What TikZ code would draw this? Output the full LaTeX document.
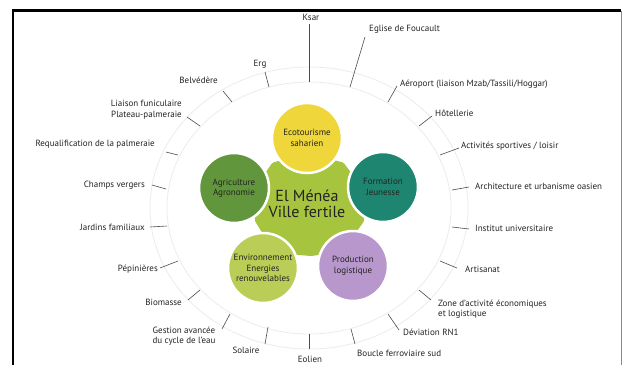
\documentclass[tikz,border=0pt]{standalone}
\usepackage{fontspec}
\setmainfont{PT Sans}
\definecolor{cYellow}{RGB}{239,214,58}
\definecolor{cDkGreen}{RGB}{98,150,60}
\definecolor{cTeal}{RGB}{30,134,112}
\definecolor{cPurple}{RGB}{184,152,204}
\definecolor{cLtGreen}{RGB}{186,205,86}
\definecolor{cStar}{RGB}{166,196,62}
\definecolor{cText}{RGB}{35,35,35}
\definecolor{cRing}{RGB}{236,236,236}
\begin{document}
\begin{tikzpicture}[x=1pt,y=-1pt,
  lbl/.style={font=\fontsize{9}{10.5}\selectfont, text=cText, inner sep=0pt},
  tick/.style={draw=black!70, line width=0.6pt},
  bub/.style={circle, minimum size=70pt, inner sep=0pt, draw=white, line width=2.5pt,
              align=center, text=cText, font=\fontsize{9}{10.5}\selectfont}]
\useasboundingbox (0,0) rectangle (624,365);
\fill[white] (0,0) rectangle (624,365);
% frame
\draw[line width=2.6pt, black] (13,365) -- (13,10.5) -- (621,10.5);
\draw[line width=0.6pt, black!45] (621,10.5) -- (621,365);
% ring band
\draw[cRing, line width=0.8pt] (309,208) ellipse [x radius=142pt, y radius=126pt];
\draw[cRing, line width=0.8pt] (309,208) ellipse [x radius=159pt, y radius=141pt];
% star
\filldraw[cStar, line width=8pt, line join=round]
  (275,166) -- (308,158) -- (341,166) -- (361,192) -- (360,220) -- (340,248)
  -- (311,252) -- (277,249) -- (259,220) -- (256,193) -- cycle;
\node[text=cText, font=\fontsize{16}{16.5}\selectfont, align=center, inner sep=0pt] (city) at (307,204) {El Ménéa\\Ville fertile};
% bubbles
\node[bub, fill=cYellow] (eco) at (307,138) {Ecotourisme\\saharien};
\node[bub, fill=cTeal] (form) at (383,187) {Formation\\Jeunesse};
\node[bub, fill=cPurple] (prod) at (353,266) {Production\\logistique};
\node[bub, fill=cLtGreen] (env) at (263,268) {Environnement\\Energies\\renouvelables};
\node[bub, fill=cDkGreen] (agri) at (234,188) {Agriculture\\Agronomie};
% labels
\node[lbl] (ksar) at (311,17) {Ksar};
\node[lbl, anchor=west] (eglise) at (369,29) {Eglise de Foucault};
\node[lbl, anchor=west] (aero) at (400,84) {Aéroport (liaison Mzab/Tassili/Hoggar)};
\node[lbl, anchor=west] (hotel) at (435,113) {Hôtellerie};
\node[lbl, anchor=west] (sport) at (461,146) {Activités sportives / loisir};
\node[lbl, anchor=west] (archi) at (475,186) {Architecture et urbanisme oasien};
\node[lbl, anchor=west] (univ) at (475,228) {Institut universitaire};
\node[lbl, anchor=west] (artis) at (465,269) {Artisanat};
\node[lbl, anchor=west, align=left] (zone) at (438,309) {Zone d’activité économiques\\et logistique};
\node[lbl, anchor=west] (devi) at (403,332) {Déviation RN1};
\node[lbl, anchor=west] (boucle) at (357,353) {Boucle ferroviaire sud};
\node[lbl] (eolien) at (310,359) {Eolien};
\node[lbl] (solaire) at (246,350) {Solaire};
\node[lbl, align=center] (gestion) at (184,336) {Gestion avancée\\du cycle de l'eau};
\node[lbl, anchor=east] (biom) at (182,302) {Biomasse};
\node[lbl, anchor=east] (pepi) at (158,269) {Pépinières};
\node[lbl, anchor=east] (jard) at (145,227) {Jardins familiaux};
\node[lbl, anchor=east] (champs) at (145,185) {Champs vergers};
\node[lbl, anchor=east] (requal) at (155,144) {Requalification de la palmeraie};
\node[lbl, anchor=east, align=right] (liaison) at (182,109.5) {Liaison funiculaire\\Plateau-palmeraie};
\node[lbl, anchor=east] (belv) at (218,80) {Belvédère};
\node[lbl] (erg) at (260,64) {Erg};
% ticks
\coordinate (ksar-i) at (309,82);   \coordinate (ksar-o) at (309,24);
\coordinate (eglise-i) at (350,87); \coordinate (eglise-o) at (365,37);
\coordinate (aero-i) at (388,102);  \coordinate (aero-o) at (397,86);
\coordinate (hotel-i) at (419,126); \coordinate (hotel-o) at (432,116);
\coordinate (sport-i) at (440,155); \coordinate (sport-o) at (459,148);
\coordinate (archi-i) at (452,190); \coordinate (archi-o) at (469,187);
\coordinate (univ-i) at (452,227);  \coordinate (univ-o) at (469,229);
\coordinate (artis-i) at (440,261); \coordinate (artis-o) at (457,268);
\coordinate (zone-i) at (419,290);  \coordinate (zone-o) at (431,300);
\coordinate (devi-i) at (388,314);  \coordinate (devi-o) at (399,330);
\coordinate (boucle-i) at (351,329);\coordinate (boucle-o) at (355,344);
\coordinate (eolien-i) at (309,334);\coordinate (eolien-o) at (309,349);
\coordinate (solaire-i) at (268,327);\coordinate (solaire-o) at (265,344);
\coordinate (gestion-i) at (230,314);\coordinate (gestion-o) at (222,329);
\coordinate (biom-i) at (200,290);  \coordinate (biom-o) at (188,300);
\coordinate (pepi-i) at (178,261);  \coordinate (pepi-o) at (160,268);
\coordinate (jard-i) at (167,226);  \coordinate (jard-o) at (150,227);
\coordinate (champs-i) at (166,189);\coordinate (champs-o) at (152,185);
\coordinate (requal-i) at (178,155);\coordinate (requal-o) at (166,152);
\coordinate (liaison-i) at (200,126);\coordinate (liaison-o) at (187,117);
\coordinate (belv-i) at (232,102);  \coordinate (belv-o) at (223,91);
\coordinate (erg-i) at (269,87);    \coordinate (erg-o) at (265,72);
\foreach \t in {ksar,eglise,aero,hotel,sport,archi,univ,artis,zone,devi,boucle,eolien,solaire,gestion,biom,pepi,jard,champs,requal,liaison,belv,erg}
  \draw[tick] (\t-i) -- (\t-o);
\end{tikzpicture}
\end{document}
